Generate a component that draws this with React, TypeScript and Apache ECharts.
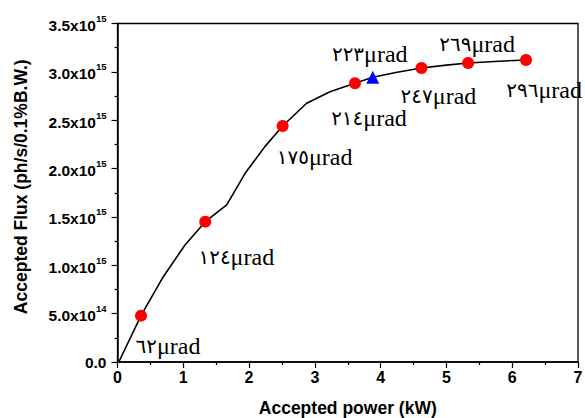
import React, { useEffect, useRef } from "react";
import * as echarts from "echarts";

// Curve (accepted power kW vs accepted flux ph/s/0.1%BW)
const curvePower = [0.02, 0.357, 0.696, 1.026, 1.334, 1.66, 1.94, 2.24, 2.51, 2.875, 3.23, 3.61, 3.88, 4.25, 4.62, 5.0, 5.33, 5.8, 6.21];
const curveFlux = [0, 4.79e14, 8.82e14, 1.21e15, 1.451e15, 1.624e15, 1.951e15, 2.227e15, 2.44e15, 2.675e15, 2.795e15, 2.882e15, 2.944e15, 2.996e15, 3.04e15, 3.07e15, 3.092e15, 3.11e15, 3.123e15];

// Red circle markers
const redPower = [0.357, 1.334, 2.51, 3.61, 4.62, 5.33, 6.21];
const redFlux = [4.79e14, 1.451e15, 2.44e15, 2.882e15, 3.04e15, 3.092e15, 3.123e15];
const redAngles = ["٦٢", "١٢٤", "١٧٥", "٢١٤", "٢٤٧", "٢٦٩", "٢٩٦"];

// Blue triangle marker
const bluePower = [3.88];
const blueFlux = [2.944e15];
const blueAngles = ["٢٢٣"];

const unit = "μrad";

// Y tick labels (rich text)
const yTickLabels = ["0.0", "{a|5.0x10}{s|14}", "{a|1.0x10}{s|15}", "{a|1.5x10}{s|15}", "{a|2.0x10}{s|15}", "{a|2.5x10}{s|15}", "{a|3.0x10}{s|15}", "{a|3.5x10}{s|15}"];

// layout: label offsets (px) relative to marker
const redOffsets = [[27, 30], [31, 35], [32, 31], [14, 35], [17, 28], [9, -19], [18, 30]];
const blueOffsets = [[-3, -23]];

const SANS = "Liberation Sans, Arial, sans-serif";
const SERIF = "Liberation Serif, Times New Roman, serif";

export default function App() {
  const ref = useRef<HTMLDivElement>(null);
  useEffect(() => {
    if (!ref.current) return;
    const chart = echarts.init(ref.current, undefined, { renderer: "svg" });
    const labelStyle = (off: number[], angle: string) => ({
      show: true,
      position: "inside",
      offset: off,
      formatter: `{d|${angle}}{u|${unit}}`,
      rich: {
        d: { color: "#000", fontFamily: "DejaVu Sans, Noto Sans, sans-serif", fontSize: 20, lineHeight: 26, fontWeight: "normal" },
        u: { color: "#000", fontFamily: SERIF, fontSize: 24, lineHeight: 26, fontWeight: "normal" },
      },
    });
    chart.setOption({
      animation: false,
      backgroundColor: "#fff",
      grid: {
        left: 117.5,
        top: 23.5,
        right: 7,
        bottom: 56,
        containLabel: false,
        outerBoundsMode: "none",
        show: true,
        borderColor: "#000",
        borderWidth: 1.3,
      },
      xAxis: {
        type: "value",
        min: 0,
        max: 7,
        interval: 1,
        splitLine: { show: false },
        axisLine: { show: true, lineStyle: { color: "#000", width: 1.5 } },
        axisTick: { show: true, length: 6, lineStyle: { color: "#000", width: 1.2 } },
        minorTick: { show: true, splitNumber: 2, length: 3, lineStyle: { color: "#000", width: 1.2 } },
        axisLabel: { color: "#000", fontFamily: SANS, fontWeight: "bold", fontSize: 16, margin: 7 },
        name: "Accepted power (kW)",
        nameLocation: "middle",
        nameGap: 37,
        nameTextStyle: { color: "#000", fontFamily: SANS, fontWeight: "bold", fontSize: 17.5 },
      },
      yAxis: {
        type: "value",
        min: 0,
        max: 3.5e15,
        interval: 0.5e15,
        splitLine: { show: false },
        axisLine: { show: true, lineStyle: { color: "#000", width: 1.5 } },
        axisTick: { show: true, length: 6, lineStyle: { color: "#000", width: 1.2 } },
        minorTick: { show: true, splitNumber: 2, length: 3, lineStyle: { color: "#000", width: 1.2 } },
        axisLabel: {
          color: "#000",
          margin: 11,
          formatter: (v: number) => yTickLabels[Math.round(v / 0.5e15)] ?? "",
          fontFamily: SANS,
          fontWeight: "bold",
          fontSize: 15.5,
          rich: {
            a: { fontFamily: SANS, fontWeight: "bold", fontSize: 15.5, color: "#000", lineHeight: 20, verticalAlign: "bottom" },
            s: { fontFamily: SANS, fontWeight: "bold", fontSize: 9.5, color: "#000", lineHeight: 20, verticalAlign: "top", padding: [0, 0, 7, 0] },
          },
        },
        name: "Accepted Flux (ph/s/0.1%B.W.)",
        nameLocation: "middle",
        nameGap: 88,
        nameTextStyle: { color: "#000", fontFamily: SANS, fontWeight: "bold", fontSize: 17.5, padding: [0, 0, 0, 12] },
      },
      series: [
        {
          type: "line",
          data: curvePower.map((x, i) => [x, curveFlux[i]]),
          showSymbol: false,
          symbol: "none",
          lineStyle: { color: "#000", width: 1.6 },
          z: 2,
        },
        {
          type: "scatter",
          data: redPower.map((x, i) => ({ value: [x, redFlux[i]], label: labelStyle(redOffsets[i], redAngles[i]) })),
          symbol: "circle",
          symbolSize: 12,
          itemStyle: { color: "#ff0000", opacity: 1 },
          z: 3,
        },
        {
          type: "scatter",
          data: bluePower.map((x, i) => ({ value: [x, blueFlux[i]], label: labelStyle(blueOffsets[i], blueAngles[i]) })),
          symbol: "triangle",
          symbolSize: 13,
          itemStyle: { color: "#0000ff", opacity: 1 },
          z: 3,
        },
      ],
    });
    return () => chart.dispose();
  }, []);
  return <div ref={ref} style={{ position: "absolute", left: 0, top: 0, width: 585, height: 418 }} />;
}
